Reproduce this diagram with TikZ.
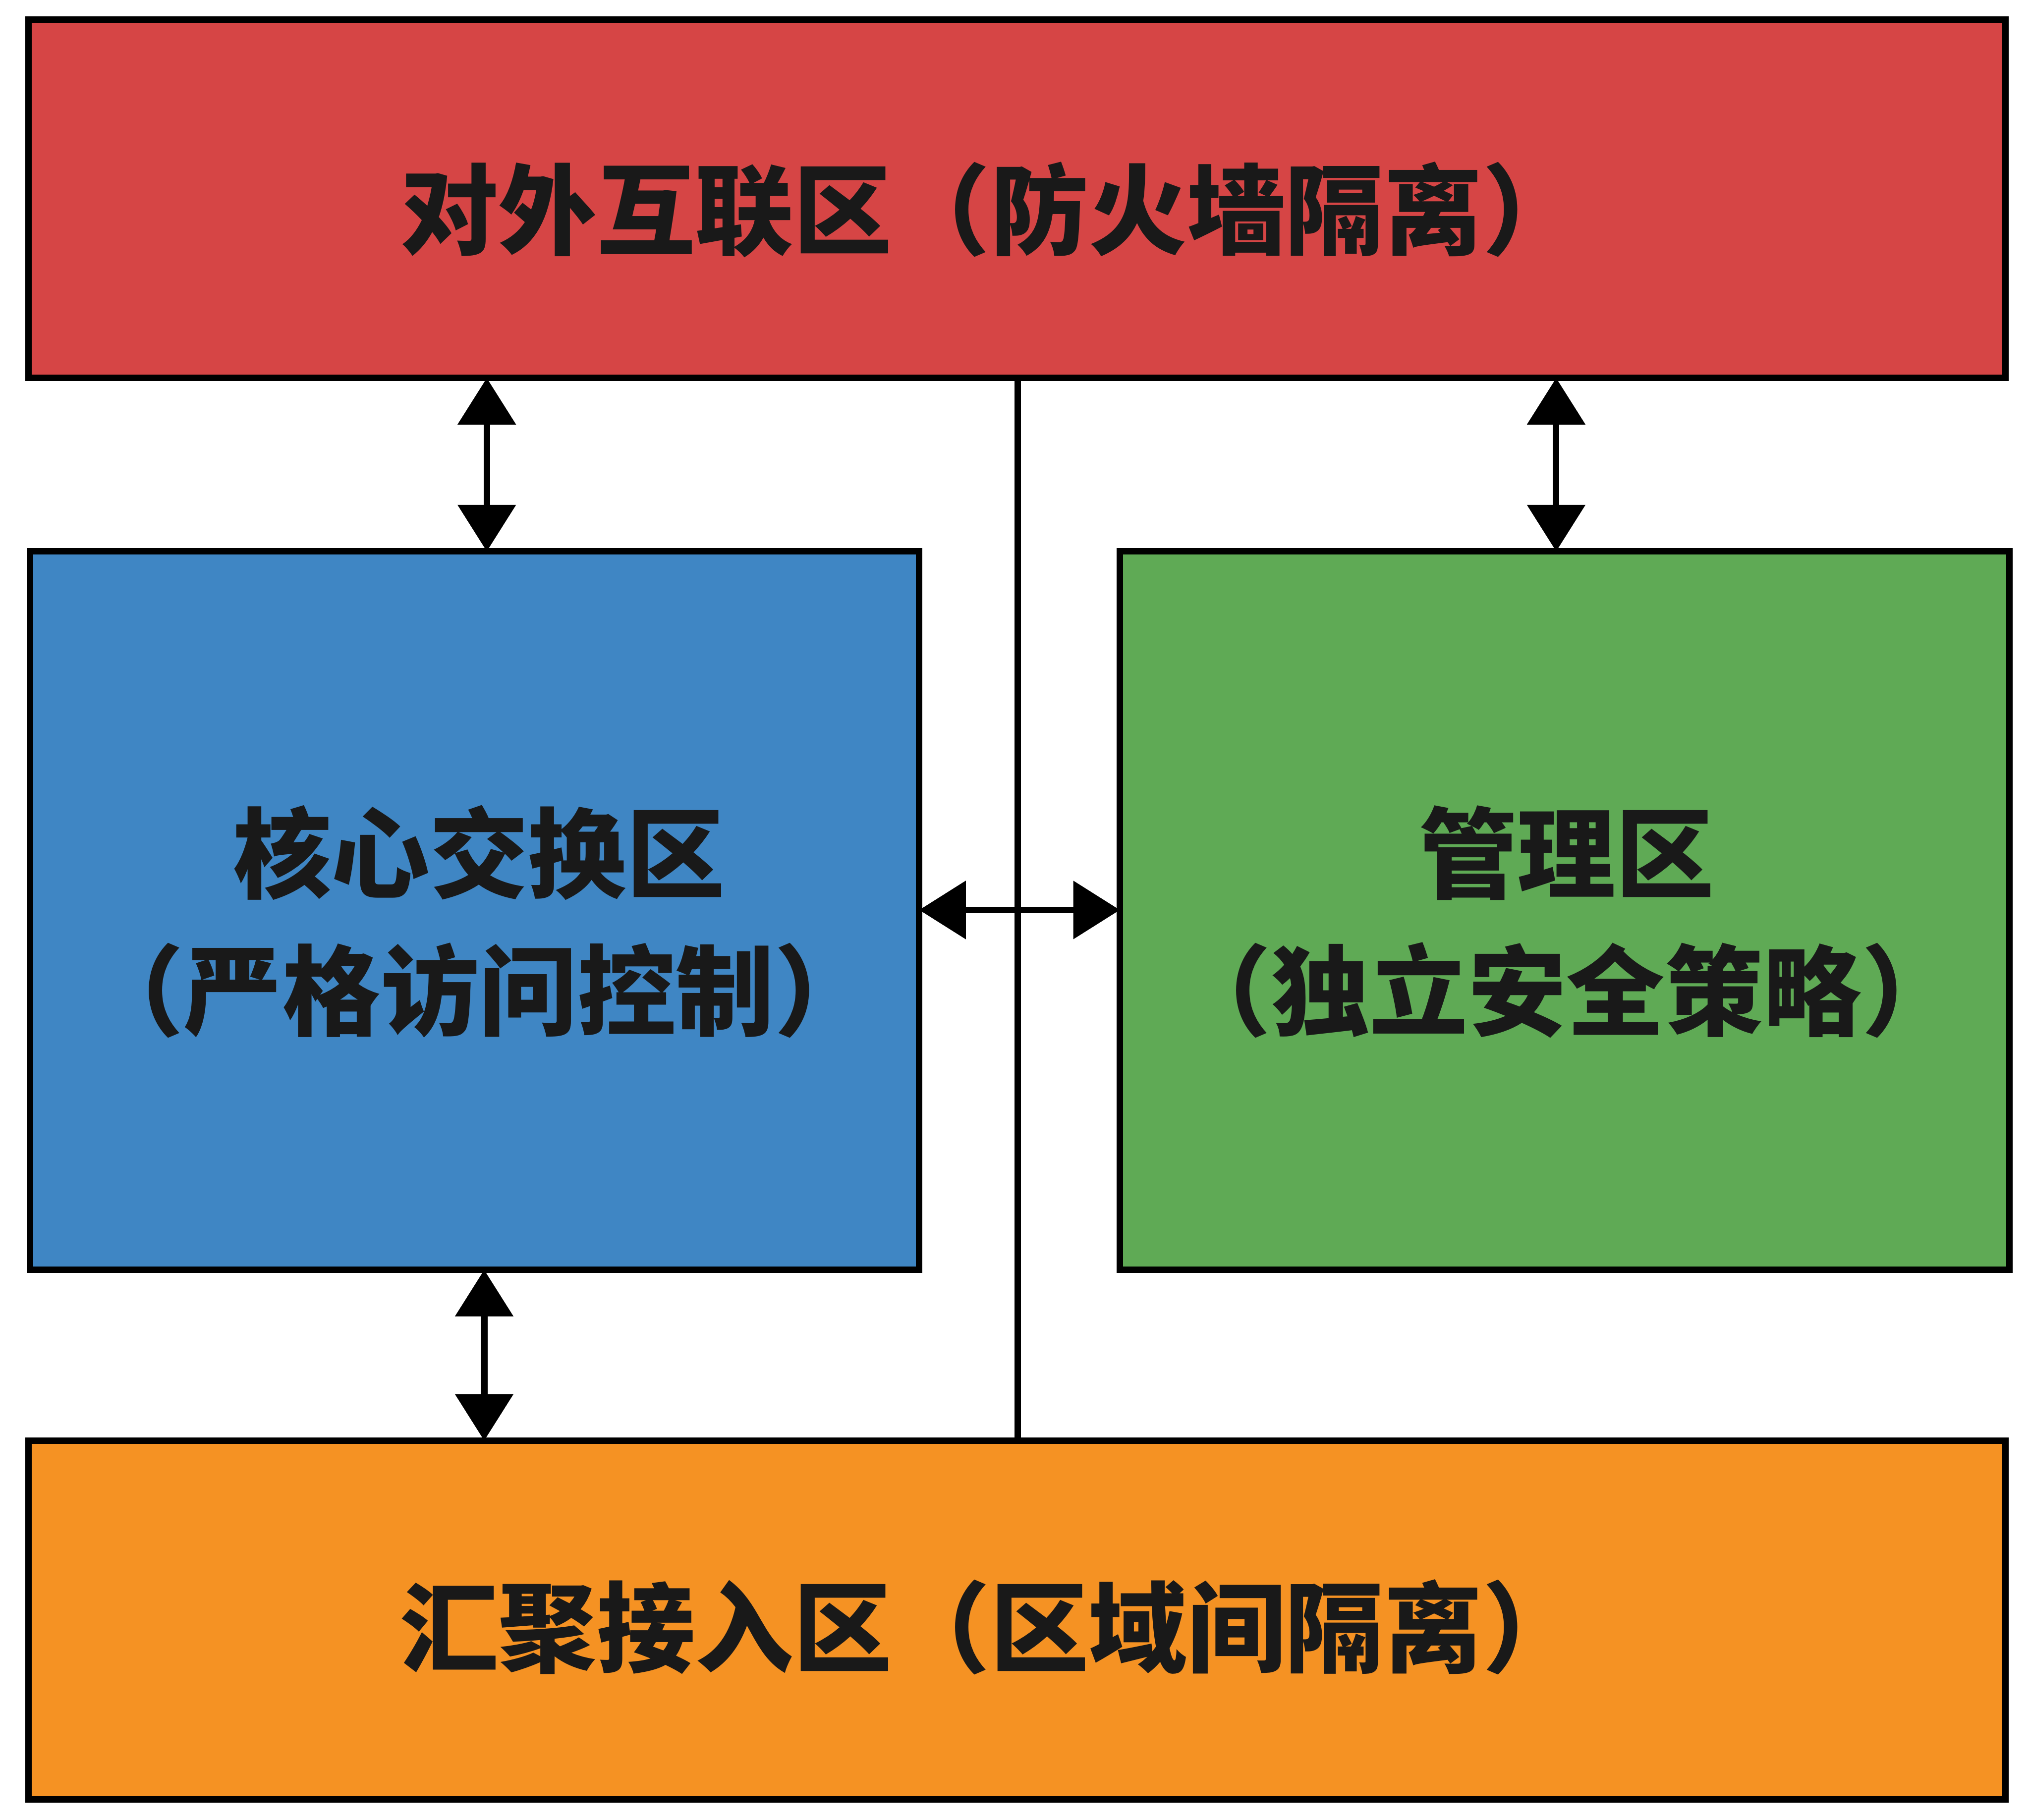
\documentclass[tikz,border=0pt]{standalone}
\usepackage{fontspec}
\newfontfamily\cjk{Noto Sans CJK SC}
\usetikzlibrary{arrows.meta}
\definecolor{cred}{HTML}{D64545}
\definecolor{cblue}{HTML}{3F86C4}
\definecolor{cgreen}{HTML}{5FAA55}
\definecolor{corange}{HTML}{F59223}
\begin{document}
\begin{tikzpicture}[x=1pt,y=-1pt,
  zone/.style={draw=black,line width=5pt},
  lbl/.style={font=\cjk\bfseries\fontsize{76}{106}\selectfont,align=center,text=black!90},
  conn/.style={line width=5pt,{Triangle[length=36pt,width=44pt]}-{Triangle[length=36pt,width=44pt]}}]
\useasboundingbox (0,0) rectangle (1568,1406);
\fill[white] (0,0) rectangle (1568,1406);
\draw[zone,fill=cred] (22,15) rectangle (1549,292);
\draw[zone,fill=cblue] (23,426) rectangle (710,981);
\draw[zone,fill=cgreen] (865,426) rectangle (1552,981);
\draw[zone,fill=corange] (22,1113) rectangle (1549,1390);
\node[lbl] (top) at (765,162) {对外互联区（防火墙隔离）};
\node[lbl] (core) at (370,712) {核心交换区\\（严格访问控制）};
\node[lbl] (mgmt) at (1210,712) {管理区\\（独立安全策略）};
\node[lbl] (bot) at (765,1257) {汇聚接入区（区域间隔离）};
\coordinate (vt) at (786,292);
\coordinate (vb) at (786,1113);
\draw[line width=5pt] (vt) -- (vb);
\coordinate (a1) at (376,292); \coordinate (a2) at (376,426);
\coordinate (b1) at (1202,292); \coordinate (b2) at (1202,426);
\coordinate (c1) at (374,981); \coordinate (c2) at (374,1113);
\coordinate (h1) at (710,703); \coordinate (h2) at (865,703);
\draw[conn] (a1) -- (a2);
\draw[conn] (b1) -- (b2);
\draw[conn] (c1) -- (c2);
\draw[conn] (h1) -- (h2);
\end{tikzpicture}
\end{document}
